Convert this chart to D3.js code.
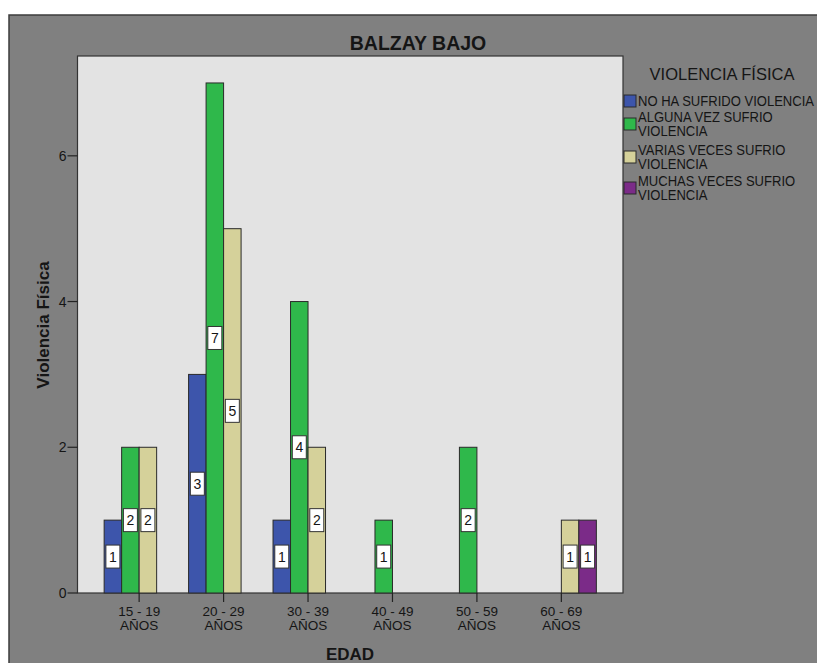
<!DOCTYPE html>
<html><head><meta charset="utf-8">
<script src="https://cdn.jsdelivr.net/npm/d3@7"></script>
<style>
html,body{margin:0;padding:0;background:#fff;}
text{font-family:"Liberation Sans",Arial,sans-serif;fill:#151515;}
</style></head>
<body>
<svg id="c" width="817" height="663"></svg>
<script>
const categories = ["15 - 19|AÑOS","20 - 29|AÑOS","30 - 39|AÑOS","40 - 49|AÑOS","50 - 59|AÑOS","60 - 69|AÑOS"];
const seriesNames = ["NO HA SUFRIDO VIOLENCIA","ALGUNA VEZ SUFRIO|VIOLENCIA","VARIAS VECES SUFRIO|VIOLENCIA","MUCHAS VECES SUFRIO|VIOLENCIA"];
const seriesColors = ["#3d55ab","#2fb84b","#d5d19a","#7b2b88"];
const noHaSufrido = [1,3,1,0,0,0];
const algunaVez = [2,7,4,1,2,0];
const variasVeces = [2,5,2,0,0,1];
const muchasVeces = [0,0,0,0,0,1];
const yTicks = [0,2,4,6];
const series = [noHaSufrido, algunaVez, variasVeces, muchasVeces];

const svg = d3.select("#c");
// outer panel
svg.append("rect").attr("x",9).attr("y",15).attr("width",820).attr("height",660)
  .attr("fill","#808080").attr("stroke","#3c3c3c").attr("stroke-width",1.5);

const L=77.5,R=623,T=56,B=593;
svg.append("rect").attr("x",L).attr("y",T).attr("width",R-L).attr("height",B-T)
  .attr("fill","#e3e3e3").attr("stroke","#333").attr("stroke-width",1.2);

const x = d3.scalePoint().domain(categories).range([L,R]).padding(0.73);
const y = d3.scaleLinear().domain([0,7.37]).range([B,T]);
const bw = 17.5;

// bars
series.forEach((vals,si)=>{
  svg.append("g").selectAll("rect").data(vals.map((v,i)=>({v,c:categories[i]})).filter(d=>d.v>0))
    .join("rect")
    .attr("x",d=>x(d.c)+(si-2)*bw)
    .attr("y",d=>y(d.v)).attr("width",bw).attr("height",d=>y(0)-y(d.v))
    .attr("fill",seriesColors[si]).attr("stroke","#2a2a2a").attr("stroke-width",1);
});
// labels
series.forEach((vals,si)=>{
  const g = svg.append("g").selectAll("g").data(vals.map((v,i)=>({v,c:categories[i]})).filter(d=>d.v>0))
    .join("g")
    .attr("transform",d=>`translate(${x(d.c)+(si-2)*bw+bw/2},${(y(d.v)+y(0))/2})`);
  g.append("rect").attr("x",-7).attr("y",-11.5).attr("width",14).attr("height",23)
    .attr("fill","#fff").attr("stroke","#333").attr("stroke-width",1);
  g.append("text").attr("text-anchor","middle").attr("dy","0.36em").attr("font-size",14).text(d=>d.v);
});

// y axis
const ya = svg.append("g");
yTicks.forEach(t=>{
  ya.append("line").attr("x1",L-10).attr("x2",L).attr("y1",y(t)).attr("y2",y(t)).attr("stroke","#222").attr("stroke-width",1.2);
  ya.append("text").attr("x",L-11).attr("y",y(t)).attr("dy","0.36em").attr("text-anchor","end").attr("font-size",14).text(t);
});
// x axis
const xa = svg.append("g");
categories.forEach(c=>{
  const px = x(c);
  xa.append("line").attr("x1",px).attr("x2",px).attr("y1",B).attr("y2",B+9).attr("stroke","#222").attr("stroke-width",1.2);
  const parts=c.split("|");
  parts.forEach((p,k)=>{
    xa.append("text").attr("x",px).attr("y",611+k*14).attr("dy","0.36em").attr("text-anchor","middle").attr("font-size",13.5).text(p);
  });
});

// titles
svg.append("text").attr("x",418).attr("y",43).attr("dy","0.36em").attr("text-anchor","middle")
  .attr("font-size",19.5).attr("font-weight","bold").text("BALZAY BAJO");
svg.append("text").attr("x",350).attr("y",654).attr("dy","0.36em").attr("text-anchor","middle")
  .attr("font-size",17).attr("font-weight","bold").text("EDAD");
svg.append("text").attr("transform","translate(43,325) rotate(-90)").attr("dy","0.36em").attr("text-anchor","middle")
  .attr("font-size",17).attr("font-weight","bold").text("Violencia Física");

// legend
svg.append("text").attr("x",722).attr("y",74).attr("dy","0.36em").attr("text-anchor","middle")
  .attr("font-size",16.5).text("VIOLENCIA FÍSICA");
const legY=[101,124,157,188];
let scaleF = null;
seriesNames.forEach((n,i)=>{
  const parts=n.split("|");
  svg.append("rect").attr("x",624).attr("y",legY[i]-6).attr("width",12).attr("height",12)
    .attr("fill",seriesColors[i]).attr("stroke","#2a2a2a").attr("stroke-width",1);
  const y0 = legY[i] - (parts.length-1)*13.5/2;
  parts.forEach((p,k)=>{
    const t = svg.append("text").attr("x",638).attr("y",y0+k*13.5).attr("dy","0.36em")
      .attr("font-size",14).text(p);
    const w = t.node().getComputedTextLength();
    if (scaleF === null) scaleF = 176 / w;
    t.attr("textLength", w*scaleF).attr("lengthAdjust","spacingAndGlyphs");
  });
});
</script>
</body></html>
